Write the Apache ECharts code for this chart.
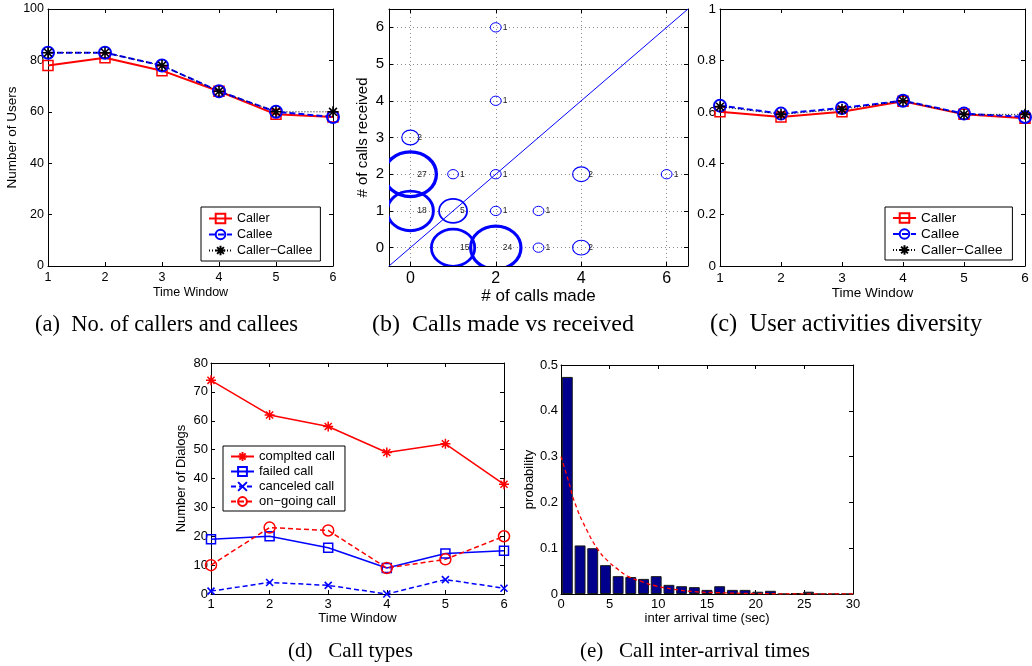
<!DOCTYPE html>
<html><head><meta charset="utf-8">
<script src="https://cdn.jsdelivr.net/npm/echarts@6/dist/echarts.min.js"></script>
<style>html,body{margin:0;padding:0;background:#fff}#c{width:1032px;height:666px}</style>
</head><body><div id="c"></div>
<script>
// ---------- (a) No. of callers and callees ----------
const timeWindows = [1, 2, 3, 4, 5, 6];
const usersCaller = [78, 81, 76, 68, 59, 58];
const usersCallee = [83, 83, 78, 68, 60, 58];
const usersCallerCallee = [83, 83, 78, 68, 60, 60];
// ---------- (b) Calls made vs received ----------
const callsMade     = [2, 2, 0, 0, 1, 2, 4, 6, 0, 1, 2, 3, 1, 2, 3, 4];
const callsReceived = [6, 4, 3, 2, 2, 2, 2, 2, 1, 1, 1, 1, 0, 0, 0, 0];
const callCounts    = [1, 1, 2, 27, 1, 1, 2, 1, 18, 5, 1, 1, 15, 24, 1, 2];
const bubbleTicksX = [0, 2, 4, 6];
const bubbleTicksY = [0, 1, 2, 3, 4, 5, 6];
const bubbleMin = -0.5, bubbleMax = 6.5;
// ---------- (c) User activities diversity ----------
const divCaller       = [0.600, 0.580, 0.600, 0.641, 0.590, 0.575];
const divCallee       = [0.624, 0.593, 0.615, 0.643, 0.593, 0.580];
const divCallerCallee = [0.620, 0.590, 0.610, 0.643, 0.590, 0.590];
// ---------- (d) Call types ----------
const completedCalls = [74, 62, 58, 49, 52, 38];
const failedCalls    = [19, 20, 16, 9, 14, 15];
const canceledCalls  = [1, 4, 3, 0, 5, 2];
const ongoingCalls   = [10, 23, 22, 9, 12, 20];
// ---------- (e) Call inter-arrival times ----------
const binCenters = [0.65, 1.96, 3.26, 4.57, 5.87, 7.17, 8.48, 9.78, 11.09, 12.39, 13.70, 15.00,
                    16.30, 17.61, 18.91, 20.22, 21.52, 22.83, 24.13, 25.43, 26.74, 28.04, 29.35];
const binProb = [0.474, 0.106, 0.100, 0.063, 0.039, 0.037, 0.033, 0.039, 0.020, 0.017, 0.015, 0.009,
                 0.017, 0.009, 0.009, 0.005, 0.007, 0, 0.002, 0.005, 0, 0, 0];
const fitX = [0, 0.75, 1.44, 2.64, 3.84, 4.87, 5.9, 6.93, 8.3, 9.67, 11.4, 13.8, 16, 20, 25, 30];
const fitY = [0.30, 0.248, 0.198, 0.14, 0.096, 0.071, 0.053, 0.038, 0.027, 0.018, 0.011, 0.005, 0.003, 0.001, 0.0003, 0.0001];

const SANS = 'Liberation Sans';
const ASTER = 'path://M0,-10L0,10M-10,0L10,0M-7.1,-7.1L7.1,7.1M-7.1,7.1L7.1,-7.1';
const XMARK = 'path://M-10,-10L10,10M-10,10L10,-10';

function pair(arrX, arrY) { return arrX.map((v, i) => [v, arrY[i]]); }

const xAxes = [], yAxes = [];
function addAxes(kind, grid, cfg) {
  const list = kind === 'x' ? xAxes : yAxes;
  const tick = { show: true, inside: true, length: 4, lineStyle: { color: '#000', width: 1 } };
  const label = { show: true, color: '#000', fontFamily: SANS, fontSize: cfg.fontSize, margin: cfg.margin };
  if (cfg.ticks) { tick.customValues = cfg.ticks; label.customValues = cfg.ticks; }
  const base = { type: 'value', gridIndex: grid, min: cfg.min, max: cfg.max };
  if (cfg.interval) base.interval = cfg.interval;
  list.push(Object.assign({}, base, {
    position: kind === 'x' ? 'bottom' : 'left',
    axisLine: { show: true, onZero: false, lineStyle: { color: '#000', width: 1 } },
    axisTick: tick,
    axisLabel: label,
    splitLine: cfg.grid ? { show: true, lineStyle: { color: '#8a8a8a', type: [1, 3], width: 1 } } : { show: false },
    name: cfg.name || '', nameLocation: 'middle', nameGap: cfg.nameGap || 20,
    nameTextStyle: { color: '#000', fontFamily: SANS, fontSize: cfg.nameSize || cfg.fontSize }
  }));
  const mtick = Object.assign({}, tick);
  list.push(Object.assign({}, base, {
    position: kind === 'x' ? 'top' : 'right',
    axisLine: { show: true, onZero: false, lineStyle: { color: '#000', width: 1 } },
    axisTick: mtick,
    axisLabel: { show: false },
    splitLine: { show: false }
  }));
}
// (a)
addAxes('x', 0, { min: 1, max: 6, interval: 1, fontSize: 12.5, margin: 5, name: 'Time Window', nameGap: 20, nameSize: 12.5 });
addAxes('y', 0, { min: 0, max: 100, interval: 20, fontSize: 12.5, margin: 4, name: 'Number of Users', nameGap: 28, nameSize: 13.5 });
// (b)
addAxes('x', 1, { min: bubbleMin, max: bubbleMax, ticks: bubbleTicksX, fontSize: 16, margin: 5, grid: true, name: '# of calls made', nameGap: 19, nameSize: 17 });
addAxes('y', 1, { min: bubbleMin, max: bubbleMax, ticks: bubbleTicksY, fontSize: 15, margin: 5, grid: true, name: '# of calls received', nameGap: 19, nameSize: 15 });
// (c)
addAxes('x', 2, { min: 1, max: 6, interval: 1, fontSize: 13.5, margin: 5, name: 'Time Window', nameGap: 19, nameSize: 13.5 });
addAxes('y', 2, { min: 0, max: 1, interval: 0.2, fontSize: 13.5, margin: 4 });
// (d)
addAxes('x', 3, { min: 1, max: 6, interval: 1, fontSize: 13, margin: 4, name: 'Time Window', nameGap: 18, nameSize: 13 });
addAxes('y', 3, { min: 0, max: 80, interval: 10, fontSize: 13, margin: 3, name: 'Number of Dialogs', nameGap: 23, nameSize: 13 });
// (e)
addAxes('x', 4, { min: 0, max: 30, interval: 5, fontSize: 13, margin: 4, name: 'inter arrival time (sec)', nameGap: 18, nameSize: 13 });
addAxes('y', 4, { min: 0, max: 0.5, interval: 0.1, fontSize: 13, margin: 3, name: 'probability', nameGap: 24, nameSize: 13 });

function lineSeries(name, grid, xs, ys, color, type, width, symbol, size, bw) {
  return {
    type: 'line', name: name, xAxisIndex: grid * 2, yAxisIndex: grid * 2,
    data: pair(xs, ys), clip: false, symbol: symbol, symbolSize: size, showSymbol: true,
    lineStyle: { color: color, type: type, width: width },
    itemStyle: { color: 'rgba(0,0,0,0)', borderColor: color, borderWidth: bw },
    emphasis: { disabled: true }, z: 3
  };
}

const series = [
  lineSeries('Caller', 0, timeWindows, usersCaller, '#ff0000', 'solid', 2, 'rect', 10, 1.5),
  lineSeries('Callee', 0, timeWindows, usersCallee, '#0000ff', [6, 3], 2, 'circle', 12, 2),
  lineSeries('Caller−Callee', 0, timeWindows, usersCallerCallee, '#000000', [1, 2], 1, ASTER, 11, 1.6),
  {
    type: 'line', xAxisIndex: 2, yAxisIndex: 2, data: [[bubbleMin, bubbleMin], [bubbleMax, bubbleMax]],
    symbol: 'none', lineStyle: { color: '#0000ff', width: 1 }, z: 2, silent: true
  },
  {
    type: 'custom', xAxisIndex: 2, yAxisIndex: 2, clip: true, z: 3,
    data: callsMade.map((m, i) => [m, callsReceived[i], callCounts[i]]),
    renderItem: function (params, api) {
      const n = api.value(2);
      const c = api.coord([api.value(0), api.value(1)]);
      const r = 0.183 * Math.log(1 + n);
      const s = api.size([r, r]);
      return {
        type: 'group', children: [
          { type: 'ellipse', shape: { cx: c[0], cy: c[1], rx: s[0], ry: s[1] },
            style: { fill: 'none', stroke: '#0000ff', lineWidth: Math.max(1, Math.log(1 + n)) } },
          { type: 'text', x: c[0] + 7, y: c[1],
            style: { text: String(n), fill: '#222', font: '8.5px "Liberation Sans"', align: 'left', verticalAlign: 'middle', textAlign: 'left', textVerticalAlign: 'middle' } }
        ]
      };
    }
  },
  lineSeries('Caller', 2, timeWindows, divCaller, '#ff0000', 'solid', 2, 'rect', 10, 1.5),
  lineSeries('Callee', 2, timeWindows, divCallee, '#0000ff', [6, 3], 2, 'circle', 12, 2),
  lineSeries('Caller−Callee', 2, timeWindows, divCallerCallee, '#000000', [1, 2], 1, ASTER, 11, 1.6),
  lineSeries('complted call', 3, timeWindows, completedCalls, '#ff0000', 'solid', 1.5, ASTER, 10, 1.5),
  lineSeries('failed call', 3, timeWindows, failedCalls, '#0000ff', 'solid', 1.5, 'rect', 9, 1.5),
  lineSeries('canceled call', 3, timeWindows, canceledCalls, '#0000ff', [5, 3], 1.5, XMARK, 7, 1.6),
  lineSeries('on−going call', 3, timeWindows, ongoingCalls, '#ff0000', [5, 3], 1.5, 'circle', 11, 1.5),
  {
    type: 'bar', xAxisIndex: 8, yAxisIndex: 8, data: pair(binCenters, binProb), barWidth: '86%',
    itemStyle: { color: '#00008c', borderColor: '#1a1a1a', borderWidth: 1 }, z: 2, silent: true
  },
  {
    type: 'line', xAxisIndex: 8, yAxisIndex: 8, data: pair(fitX, fitY), smooth: true, symbol: 'none',
    lineStyle: { color: '#ff0000', type: [4, 3], width: 1.3 }, z: 3, silent: true
  }
];

const legendBase = {
  orient: 'vertical', itemWidth: 23, itemHeight: 12, itemGap: 3, selectedMode: false,
  borderColor: '#000', borderWidth: 1, borderRadius: 0, backgroundColor: '#fff',
  textStyle: { fontFamily: SANS, fontSize: 12.5, color: '#000' }
};
const legends = [
  Object.assign({}, legendBase, { data: ['Caller', 'Callee', 'Caller−Callee'], left: 201, top: 207, padding: [5, 8, 4, 7] }),
  Object.assign({}, legendBase, { data: ['Caller', 'Callee', 'Caller−Callee'], left: 885, top: 207, padding: [4, 10, 3, 7], itemGap: 2,
    textStyle: { fontFamily: SANS, fontSize: 13.5, color: '#000' } }),
  Object.assign({}, legendBase, { data: ['complted call', 'failed call', 'canceled call', 'on−going call'], left: 223, top: 446,
    itemHeight: 11, itemGap: 2, padding: [4, 9, 3, 7], textStyle: { fontFamily: SANS, fontSize: 13, color: '#000' } })
];

function caption(x, y, t, size) {
  return { type: 'text', x: x, y: y, silent: true,
    style: { text: t, font: size + 'px "Liberation Serif"', fill: '#000', align: 'left', verticalAlign: 'middle', textAlign: 'left', textVerticalAlign: 'middle' } };
}

const chart = echarts.init(document.getElementById('c'), null, { renderer: 'canvas' });
chart.setOption({
  animation: false,
  backgroundColor: '#fff',
  grid: [
    { left: 48, top: 9, width: 285, height: 257 },
    { left: 389, top: 9, width: 299, height: 257 },
    { left: 720, top: 9, width: 305, height: 257 },
    { left: 211, top: 363, width: 293, height: 231 },
    { left: 561, top: 365, width: 292, height: 229 }
  ],
  xAxis: xAxes,
  yAxis: yAxes,
  legend: legends,
  series: series,
  graphic: [
    caption(35, 325, '(a)  No. of callers and callees', 22.5),
    caption(372, 325, '(b)  Calls made vs received', 24),
    caption(710, 325, '(c)  User activities diversity', 24.5),
    caption(288, 651, '(d)   Call types', 21),
    caption(580, 651, '(e)   Call inter-arrival times', 21)
  ]
});
</script></body></html>
